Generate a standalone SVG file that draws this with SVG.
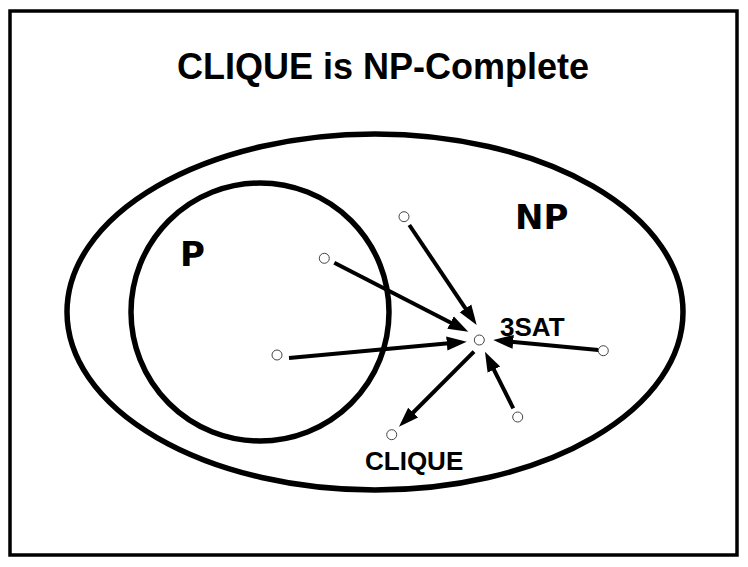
<svg xmlns="http://www.w3.org/2000/svg" width="748" height="567" viewBox="0 0 748 567">
<style>
.frame{fill:#fff;stroke:#000;stroke-width:3.5}
.set{fill:none;stroke:#000;stroke-width:5.5}
.pt{fill:#fff;stroke:#444;stroke-width:1}
.arr{stroke:#000;stroke-width:4;fill:none;marker-end:url(#ah)}
.t{font-family:"Liberation Sans",Arial,sans-serif;font-weight:bold;fill:#000}
.big{font-family:"DejaVu Sans","Liberation Sans",sans-serif;font-weight:bold;fill:#000}
</style>
<defs>
<marker id="ah" markerUnits="userSpaceOnUse" markerWidth="22" markerHeight="16" viewBox="0 -8 22 16" refX="2" refY="0" orient="auto">
<path d="M0,-7 L20,0 L0,7 z" fill="#000"/>
</marker>
</defs>
<rect class="frame" x="10" y="11" width="727" height="544"/>
<text class="t" x="383" y="79" font-size="36" text-anchor="middle">CLIQUE is NP-Complete</text>
<g id="NP">
<ellipse class="set" cx="375" cy="312" rx="308" ry="178"/>
<text class="big" x="515" y="229" font-size="34">NP</text>
</g>
<g id="P">
<circle class="set" cx="260" cy="312" r="129"/>
<text class="big" x="180" y="266" font-size="34">P</text>
</g>
<g id="connectors">
<line class="arr" x1="409.3" y1="225" x2="466.6" y2="310.1"/>
<line class="arr" x1="334.3" y1="262.7" x2="452.3" y2="323.5"/>
<line class="arr" x1="289" y1="358" x2="448.8" y2="343.3"/>
<line class="arr" x1="598.3" y1="350" x2="511.2" y2="341.7"/>
<line class="arr" x1="513.3" y1="408.3" x2="493" y2="367.8"/>
<line class="arr" x1="474" y1="351.7" x2="411.7" y2="414"/>
</g>
<g id="n1"><circle class="pt" cx="404" cy="216.7" r="5"/></g>
<g id="n2"><circle class="pt" cx="324.3" cy="258.3" r="5"/></g>
<g id="n3"><circle class="pt" cx="277" cy="355" r="5"/></g>
<g id="n3sat"><circle class="pt" cx="479.3" cy="340" r="5"/><text class="t" x="500" y="336" font-size="26">3SAT</text></g>
<g id="n5"><circle class="pt" cx="603.3" cy="350.7" r="5"/></g>
<g id="n6"><circle class="pt" cx="517.7" cy="417" r="5"/></g>
<g id="nclique"><circle class="pt" cx="391.7" cy="434.7" r="5"/><text class="t" x="365" y="470" font-size="26">CLIQUE</text></g>
</svg>
